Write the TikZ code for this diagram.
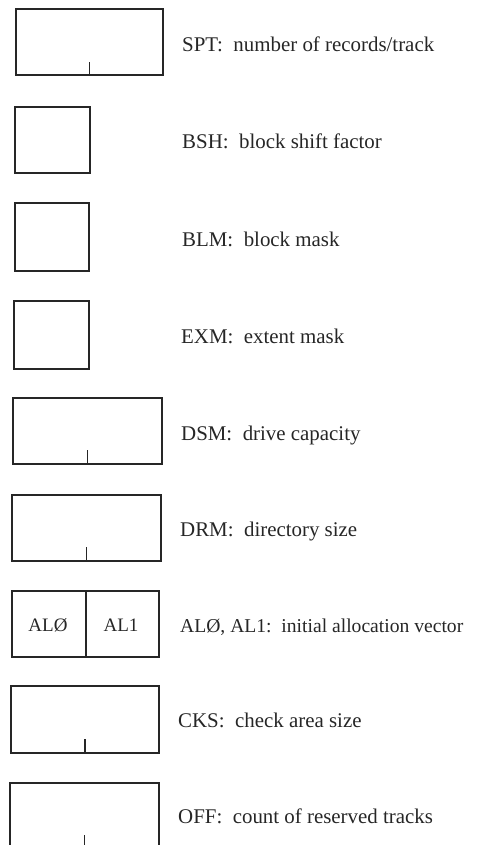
\documentclass[tikz,border=0pt]{standalone}
\usepackage{fontspec}
\setmainfont{Liberation Serif}
\begin{document}
\begin{tikzpicture}[x=1pt,y=-1pt,
  regbox/.style={draw=black!85,line width=1.8pt,rectangle,inner sep=0pt,minimum height=66pt},
  tick/.style={draw=black!85,line width=1.5pt},
  lbl/.style={anchor=base west,inner sep=0pt,text=black!85,font=\fontsize{20.9}{24}\selectfont},
  cell/.style={inner sep=0pt,text=black!85,font=\fontsize{19}{22}\selectfont}]
\useasboundingbox (0,0) rectangle (477,845);
\clip (0,0) rectangle (477,845);
% SPT
\node[regbox,minimum width=147pt] (spt) at (89.5,42) {};
\draw[tick] (spt.south) -- ++(0,-14) coordinate (sptT);
\node[lbl] (sptL) at (182,52) {SPT:~~number of records/track};
% BSH
\node[regbox,minimum width=75pt] (bsh) at (52.5,140) {};
\node[lbl] (bshL) at (182,149) {BSH:~~block shift factor};
% BLM
\node[regbox,minimum width=74pt,minimum height=68pt] (blm) at (52,237) {};
\node[lbl] (blmL) at (182,246) {BLM:~~block mask};
% EXM
\node[regbox,minimum width=75pt,minimum height=68pt] (exm) at (51.5,335) {};
\node[lbl] (exmL) at (181,343) {EXM:~~extent mask};
% DSM
\node[regbox,minimum width=149pt] (dsm) at (87.5,431) {};
\draw[tick] (dsm.south) -- ++(0,-15) coordinate (dsmT);
\node[lbl] (dsmL) at (181,440) {DSM:~~drive capacity};
% DRM
\node[regbox,minimum width=149pt] (drm) at (86.5,528) {};
\draw[tick] (drm.south) -- ++(0,-15) coordinate (drmT);
\node[lbl] (drmL) at (180,536) {DRM:~~directory size};
% AL0 AL1
\node[regbox,minimum width=147pt] (al) at (85.5,624) {};
\draw[tick] (al.north) ++(0.5,0) coordinate (alTop) -- (al.south -| alTop);
\node[cell] (al0) at (48,625) {ALØ};
\node[cell] (al1) at (121,625) {AL1};
\node[lbl,font=\fontsize{19.6}{24}\selectfont] (alL) at (180,632) {ALØ, AL1:~~initial allocation vector};
% CKS
\node[regbox,minimum width=148pt,minimum height=67pt] (cks) at (85,719.5) {};
\draw[tick] (cks.south) -- ++(0,-15) coordinate (cksT);
\node[lbl] (cksL) at (178,727) {CKS:~~check area size};
% OFF
\node[regbox,minimum width=149pt] (off) at (84.5,816) {};
\draw[tick] (off.south) -- ++(0,-15) coordinate (offT);
\node[lbl] (offL) at (178,823) {OFF:~~count of reserved tracks};
\end{tikzpicture}
\end{document}
